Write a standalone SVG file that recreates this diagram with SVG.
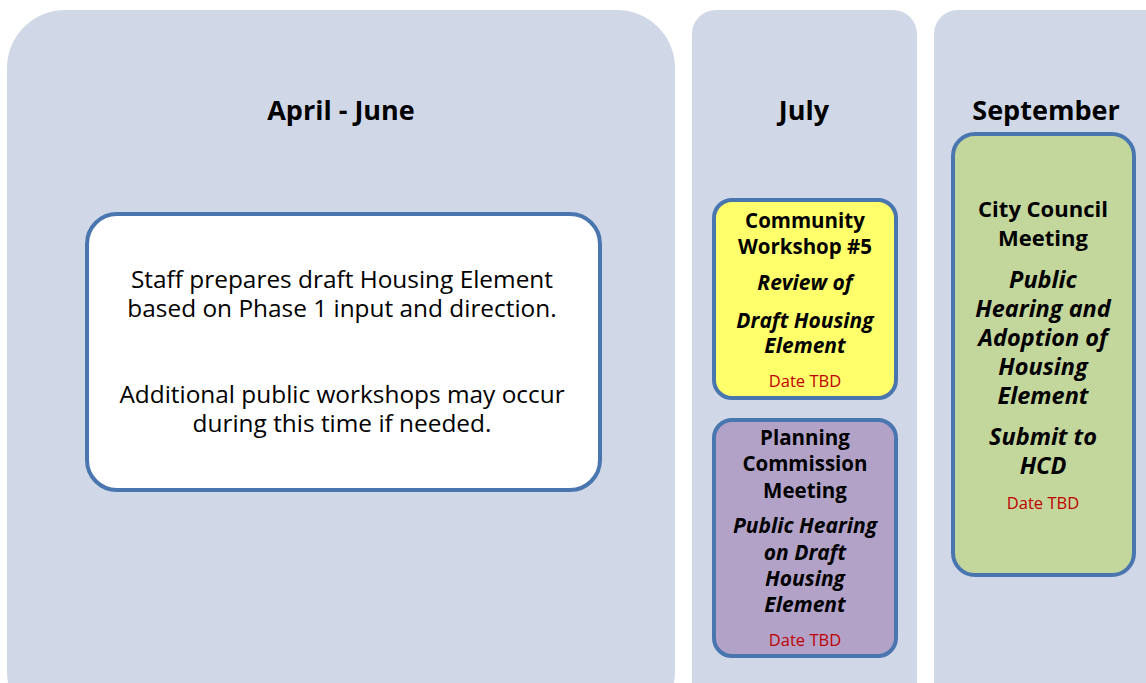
<svg xmlns="http://www.w3.org/2000/svg" width="1146" height="683" viewBox="0 0 1146 683">
<style>
.panel{fill:#d0d8e8}
.box{stroke:#4a76b0;stroke-width:4}
text{font-family:"Open Sans","Liberation Sans",sans-serif;text-anchor:middle;fill:#000}
.h{font-size:27px;font-weight:bold}
.b{font-weight:bold}
.i{font-weight:bold;font-style:italic}
.d{fill:#c00000;font-size:16.5px}
.n{font-size:24.4px}
</style>
<rect width="1146" height="683" fill="#ffffff"/>
<g id="panel-april-june">
<rect class="panel" x="7" y="10" width="668" height="720" rx="58"/>
<text class="h" x="341" y="120">April - June</text>
</g>
<g id="panel-july">
<rect class="panel" x="692" y="10" width="225" height="720" rx="24"/>
<text class="h" x="804" y="120">July</text>
</g>
<g id="panel-september">
<rect class="panel" x="934" y="10" width="240" height="720" rx="24"/>
<text class="h" x="1046" y="120">September</text>
</g>
<g id="node-staff">
<rect class="box" x="87" y="214" width="513" height="276" rx="30" fill="#ffffff"/>
<text class="n" x="342" y="288">Staff prepares draft Housing Element</text>
<text class="n" x="342" y="317">based on Phase 1 input and direction.</text>
<text class="n" x="342" y="403">Additional public workshops may occur</text>
<text class="n" x="342" y="432">during this time if needed.</text>
</g>
<g id="node-workshop">
<rect class="box" x="714" y="200" width="182" height="198" rx="18" fill="#ffff6b"/>
<text class="b" font-size="20.5" x="805" y="228">Community</text>
<text class="b" font-size="20.5" x="805" y="254">Workshop #5</text>
<text class="i" font-size="21" x="805" y="290">Review of</text>
<text class="i" font-size="21" x="805" y="328">Draft Housing</text>
<text class="i" font-size="21" x="805" y="353">Element</text>
<text class="d" x="805" y="387">Date TBD</text>
</g>
<g id="node-planning">
<rect class="box" x="714" y="420" width="182" height="236" rx="18" fill="#b2a2c7"/>
<text class="b" font-size="20.5" x="805" y="445">Planning</text>
<text class="b" font-size="20.5" x="805" y="471">Commission</text>
<text class="b" font-size="20.5" x="805" y="498">Meeting</text>
<text class="i" font-size="21" x="805" y="533">Public Hearing</text>
<text class="i" font-size="21" x="805" y="560">on Draft</text>
<text class="i" font-size="21" x="805" y="586">Housing</text>
<text class="i" font-size="21" x="805" y="612">Element</text>
<text class="d" x="805" y="646">Date TBD</text>
</g>
<g id="node-council">
<rect class="box" x="953" y="134" width="181" height="441" rx="22" fill="#c3d69b"/>
<text class="b" font-size="22" x="1043" y="217">City Council</text>
<text class="b" font-size="22" x="1043" y="246">Meeting</text>
<text class="i" font-size="23.5" x="1043" y="288">Public</text>
<text class="i" font-size="23.5" x="1043" y="317">Hearing and</text>
<text class="i" font-size="23.5" x="1043" y="346">Adoption of</text>
<text class="i" font-size="23.5" x="1043" y="375">Housing</text>
<text class="i" font-size="23.5" x="1043" y="404">Element</text>
<text class="i" font-size="23.5" x="1043" y="445">Submit to</text>
<text class="i" font-size="23.5" x="1043" y="474">HCD</text>
<text class="d" x="1043" y="509">Date TBD</text>
</g>
<g id="connectors"/>
</svg>
